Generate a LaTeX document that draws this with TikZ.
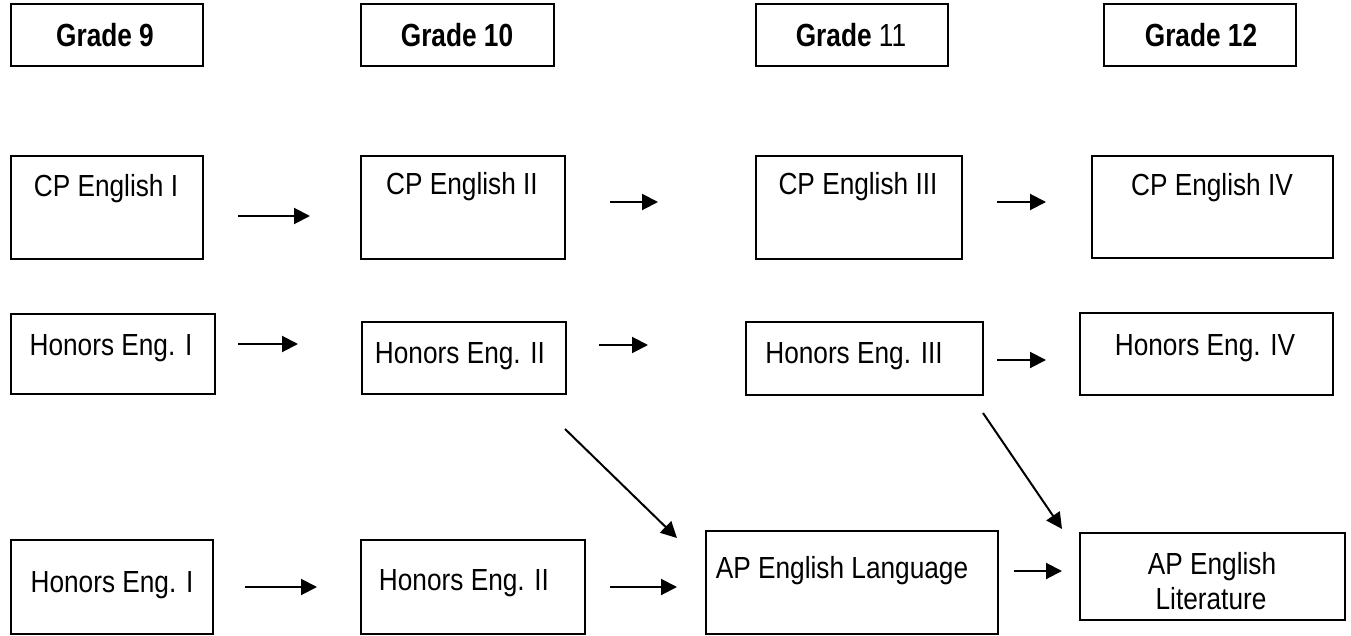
\documentclass[tikz,border=0pt]{standalone}
\usepackage{fontspec}
\setmainfont{Liberation Sans}[FakeStretch=0.86]
\newfontfamily\gradefont{Liberation Sans}[FakeStretch=0.82]
\usetikzlibrary{arrows.meta,fit}
\begin{document}
\begin{tikzpicture}[x=1pt,y=-1pt,
  box/.style={draw, line width=1.9pt, inner sep=0pt},
  lbl/.style={inner sep=0pt, anchor=base, font=\fontsize{30.5}{34}\selectfont},
  glbl/.style={inner sep=0pt, anchor=base, font=\gradefont\fontsize{32}{36}\selectfont\bfseries},
  arr/.style={line width=2pt, -{Triangle[length=16pt,width=16pt]}}]
\useasboundingbox (0,0) rectangle (1351,636);
% grade headers
\node[box, fit={(11,4) (203,66)}] (g9) {};
\node[box, fit={(361,4) (554,66)}] (g10) {};
\node[box, fit={(756,4) (948,66)}] (g11) {};
\node[box, fit={(1104,4) (1296,66)}] (g12) {};
\node[glbl] (g9t) at (105,47) {Grade 9};
\node[glbl] (g10t) at (457,47) {Grade 10};
\node[glbl] (g11t) at (851,47) {Grade \mdseries 11};
\node[glbl] (g12t) at (1201,47) {Grade 12};
% CP row
\node[box, fit={(11,156) (203,259)}] (cp1) {};
\node[box, fit={(361,156) (565,259)}] (cp2) {};
\node[box, fit={(756,156) (962,259)}] (cp3) {};
\node[box, fit={(1092,156) (1333,258)}] (cp4) {};
\node[lbl] (cp1t) at (106,197) {CP English I};
\node[lbl] (cp2t) at (462,195) {CP English II};
\node[lbl] (cp3t) at (858,195) {CP English III};
\node[lbl] (cp4t) at (1212,196) {CP English IV};
% Honors row
\node[box, fit={(11,314) (215,394)}] (h1) {};
\node[box, fit={(362,322) (566,394)}] (h2) {};
\node[box, fit={(746,322) (983,395)}] (h3) {};
\node[box, fit={(1080,313) (1333,395)}] (h4) {};
\node[lbl] (h1t) at (111,355) {Honors Eng. I};
\node[lbl] (h2t) at (460,363) {Honors Eng. II};
\node[lbl] (h3t) at (854,363) {Honors Eng. III};
\node[lbl] (h4t) at (1205,355) {Honors Eng. IV};
% bottom row
\node[box, fit={(11,540) (213,634)}] (b1) {};
\node[box, fit={(361,540) (585,634)}] (b2) {};
\node[box, fit={(706,531) (998,634)}] (apl) {};
\node[box, fit={(1080,533) (1345,620)}] (apt) {};
\node[lbl] (b1t) at (112,592) {Honors Eng. I};
\node[lbl] (b2t) at (464,590) {Honors Eng. II};
\node[lbl] (aplt) at (842,578) {AP English Language};
\node[lbl] (aptt1) at (1212,574) {AP English};
\node[lbl] (aptt2) at (1211,609) {Literature};
% arrow end points
\coordinate (a1s) at (238,216); \coordinate (a1e) at (310,216);
\coordinate (a2s) at (610,202); \coordinate (a2e) at (658,202);
\coordinate (a3s) at (997,202); \coordinate (a3e) at (1046,202);
\coordinate (h1s) at (238,344); \coordinate (h1e) at (298,344);
\coordinate (h2s) at (599,345); \coordinate (h2e) at (648,345);
\coordinate (h3s) at (997,360); \coordinate (h3e) at (1046,360);
\coordinate (b1s) at (245,587); \coordinate (b1e) at (317,587);
\coordinate (b2s) at (610,587); \coordinate (b2e) at (677,587);
\coordinate (b3s) at (1014,571); \coordinate (b3e) at (1062,571);
\coordinate (d1s) at (565,429); \coordinate (d1e) at (677,538);
\coordinate (d2s) at (983,413); \coordinate (d2e) at (1062,529);
\foreach \p in {a1,a2,a3,h1,h2,h3,b1,b2,b3,d1,d2}
  \draw[arr] (\p s) -- (\p e);
\end{tikzpicture}
\end{document}
